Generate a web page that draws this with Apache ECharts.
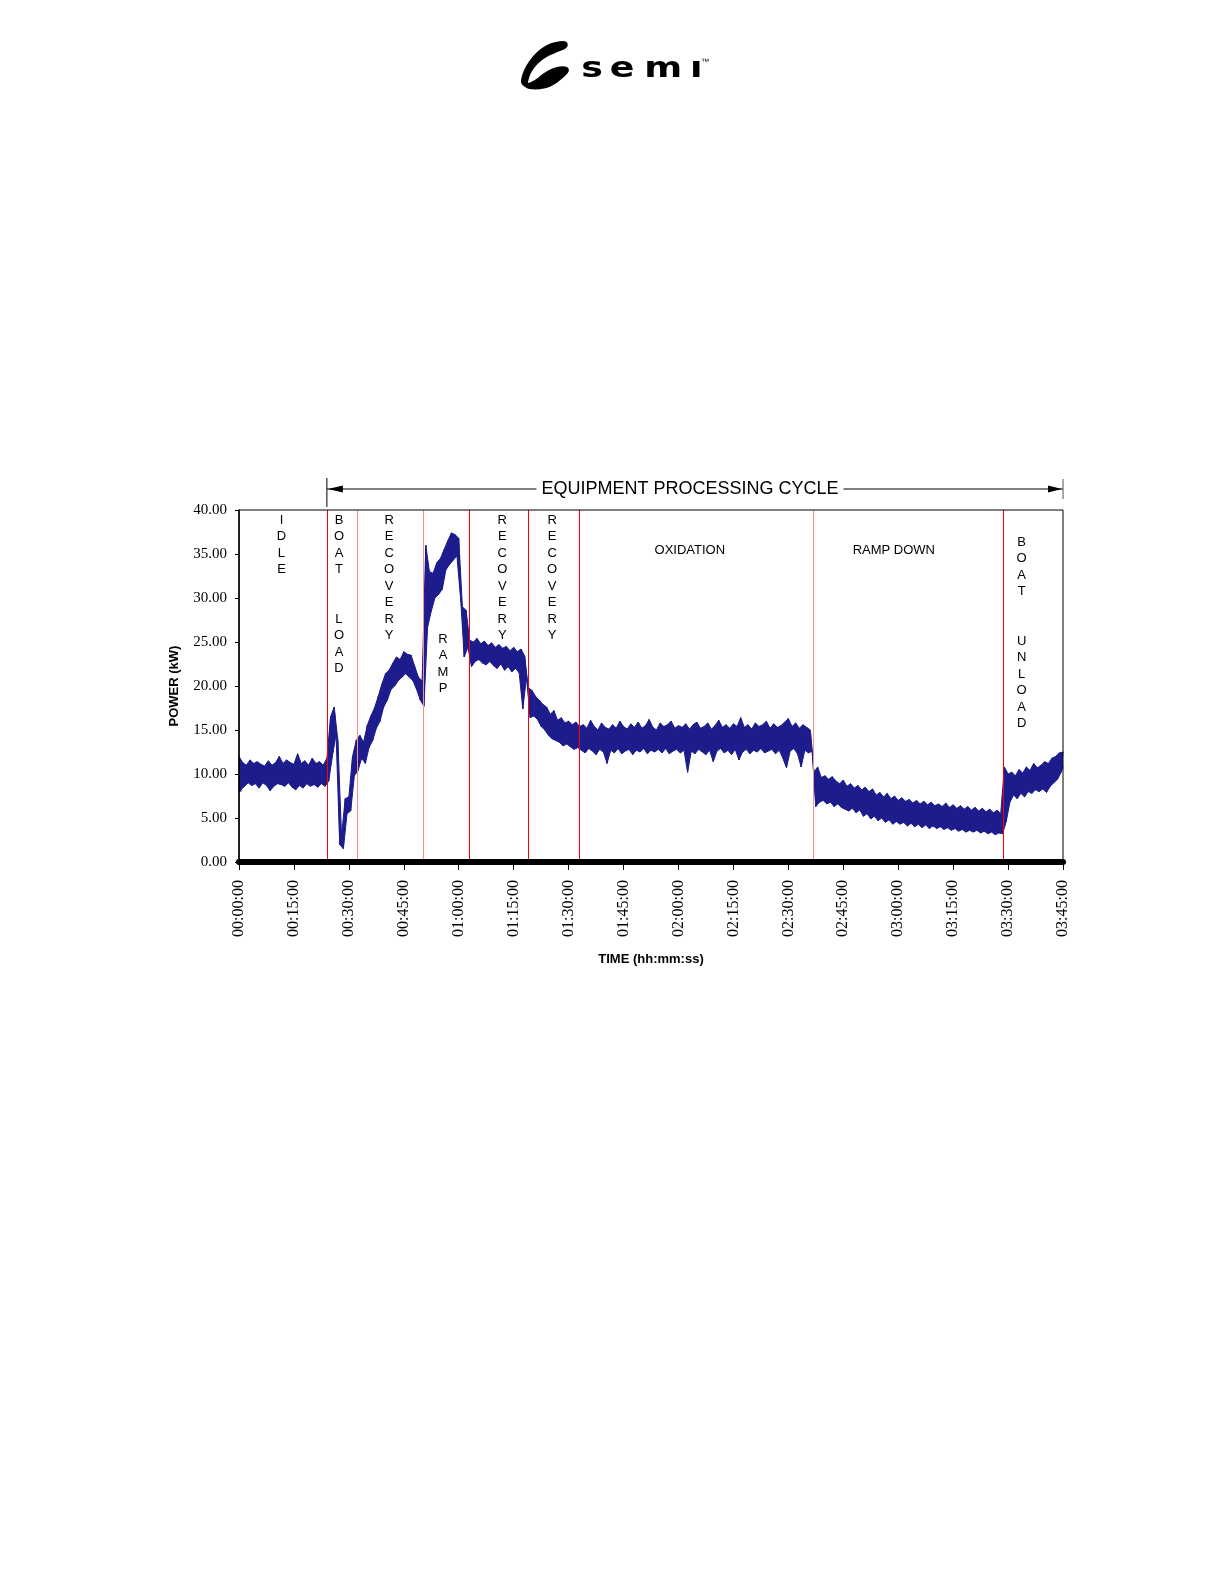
<!DOCTYPE html>
<html><head><meta charset="utf-8">
<script src="https://cdn.jsdelivr.net/npm/echarts@6/dist/echarts.min.js"></script>
<style>html,body{margin:0;padding:0;background:#fff;}#c{width:1225px;height:1585px;}</style>
</head><body><div id="c"></div>
<script>
// Power readings (kW), one pair per minute: upper and lower edge of the noisy trace
const powerHigh = [
  12.0, 11.3, 11.0, 11.6, 11.2, 11.4, 11.1, 10.9, 11.5, 11.0,
  11.3, 12.0, 11.2, 11.6, 11.3, 11.1, 12.3, 11.2, 11.5, 11.0,
  11.8, 11.2, 11.4, 11.0, 11.8, 16.5, 17.6, 13.8, 3.0, 7.2,
  7.4, 12.0, 13.8, 14.4, 13.6, 15.5, 16.6, 17.5, 18.8, 20.2,
  21.4, 21.8, 22.6, 23.3, 23.0, 23.9, 23.6, 23.5, 22.2, 21.0,
  20.6, 36.0, 33.0, 32.8, 34.0, 34.5, 35.5, 36.5, 37.4, 37.2,
  36.8, 29.0, 28.6, 25.2, 25.0, 25.4, 24.8, 25.1, 24.6, 24.9,
  24.4, 24.7, 24.3, 24.5, 24.0, 24.4, 23.9, 24.2, 23.4, 19.8,
  19.5, 18.8, 18.4, 17.9, 17.6, 16.8, 17.2, 16.1, 16.4, 15.8,
  16.0, 15.6, 15.9, 15.4, 15.6, 15.2, 16.1, 15.4, 15.0, 15.8,
  15.3, 15.1, 15.6, 15.2, 16.0, 15.4, 15.1, 15.7, 15.3, 15.9,
  15.2, 15.5, 16.2, 15.3, 15.0, 15.8, 15.4, 15.6, 16.0, 15.2,
  15.5, 15.3, 15.7, 15.1, 15.6, 15.9, 15.2, 15.4, 15.8, 15.1,
  15.5, 16.1, 15.3, 15.6, 15.2, 15.7, 15.4, 16.4, 15.3, 15.6,
  15.1, 15.8, 15.4, 15.6, 16.0, 15.2, 15.7, 15.3, 15.5, 15.9,
  16.3, 15.4, 15.8, 15.2, 15.6, 15.3, 15.0, 10.2, 10.8, 9.6,
  9.8, 9.4, 9.7, 9.2, 8.9, 9.3, 8.6, 8.9, 8.4, 8.7,
  8.2, 8.5, 8.0, 8.3, 7.6, 7.9, 7.4, 7.8, 7.2, 7.5,
  7.0, 7.3, 6.9, 7.1, 6.7, 7.0, 6.6, 6.9, 6.5, 6.8,
  6.4, 6.6, 6.3, 6.7, 6.2, 6.5, 6.1, 6.4, 6.0, 6.3,
  5.9, 6.2, 5.8, 6.1, 5.7, 6.0, 5.6, 5.9, 5.5, 10.8,
  10.0, 10.2, 9.8, 10.5, 10.1, 10.8, 10.4, 11.2, 10.7, 11.0,
  11.4, 11.2, 11.8, 12.0, 12.4, 12.5
];
const powerLow = [
  8.0, 8.6, 9.0, 8.7, 8.9, 8.4, 9.0, 8.7, 8.1, 8.6,
  8.9, 8.8, 8.6, 9.0, 8.5, 8.2, 8.7, 8.4, 8.9, 8.6,
  8.8, 8.5, 8.9, 8.6, 9.2, 12.0, 14.5, 2.0, 1.5, 5.5,
  5.8, 9.8, 10.4, 11.8, 11.2, 13.0, 13.8, 15.2, 16.0, 17.6,
  18.4, 19.6, 20.0, 20.6, 21.0, 21.4, 21.0, 20.6, 19.6, 18.4,
  17.7, 26.7, 28.5, 30.0, 30.4, 31.0, 33.2, 33.8, 34.3, 34.8,
  30.0, 23.3, 24.4, 22.2, 22.8, 23.0, 22.6, 22.4, 22.8, 22.3,
  22.0, 22.5, 21.8, 22.2, 21.6, 22.0, 21.5, 17.4, 21.0, 16.4,
  16.6, 16.2, 15.4, 15.0, 14.4, 14.0, 13.8, 13.6, 13.2, 13.4,
  13.1, 12.8, 13.0, 12.7, 12.4, 12.9, 12.6, 12.2, 12.8, 12.5,
  11.2, 12.7, 12.4, 12.9, 12.3, 12.6, 12.8, 12.2, 12.7, 12.5,
  12.9, 12.3, 12.7, 12.5, 12.8, 12.4, 12.9, 12.3, 12.6, 12.8,
  12.4, 12.7, 10.2, 12.6, 12.3, 12.8, 12.5, 12.2, 12.7, 11.4,
  12.6, 12.9, 12.4, 12.7, 12.2, 12.8, 11.6, 12.5, 12.8, 12.3,
  12.7, 12.5, 12.9, 12.4, 12.6, 12.8, 12.3, 12.7, 11.8, 10.7,
  12.6, 12.9, 12.3, 10.8, 12.7, 12.4, 12.6, 6.3, 6.8, 7.0,
  6.6, 6.8, 6.3, 6.6, 6.2, 6.0, 5.8, 6.1, 5.6, 5.9,
  5.2, 5.5, 4.9, 5.2, 4.7, 5.0, 4.5, 4.8, 4.3, 4.6,
  4.3, 4.5, 4.1, 4.4, 4.0, 4.3, 3.9, 4.2, 3.8, 4.1,
  3.8, 4.0, 3.7, 3.9, 3.6, 3.8, 3.5, 3.7, 3.4, 3.6,
  3.4, 3.6, 3.3, 3.5, 3.2, 3.4, 3.1, 3.3, 3.2, 4.6,
  6.8, 7.6, 7.2, 7.8, 7.4, 8.0, 7.8, 8.2, 8.0, 8.3,
  7.9, 8.6, 9.0, 9.4, 10.2, 10.8
];
// Phase boundaries (minutes)
const phaseBoundaries = [24.0, 32.2, 50.2, 63.0, 78.9, 93.0, 156.7, 208.6];
const boundaryColors = ['#ff0000', '#ff8a8a', '#ff8a8a', '#ff0000', '#ff0000', '#ff0000', '#ff8a8a', '#ff0000'];
const phaseNames = ['IDLE', 'BOAT  LOAD', 'RECOVERY', 'RAMP', 'RECOVERY', 'RECOVERY', 'OXIDATION', 'RAMP DOWN', 'BOAT  UNLOAD'];
const phaseLabelX = [11.6, 27.3, 41.0, 55.7, 71.9, 85.5, 123.1, 178.8, 213.7];
const phaseVertical = [true, true, true, true, true, true, false, false, true];
const phaseLabelTop = [512, 512, 512, 631, 512, 512, 550, 550, 534];
const cycleStart = 24.0, cycleEnd = 225;
const cycleTitle = 'EQUIPMENT PROCESSING CYCLE';

const NAVY = '#1c1c8c';
// upper edge of the trace at each whole minute, lower edge half a minute later
const highData = powerHigh.map((v, i) => [i, v]);
const lowData = [[0, powerLow[0]]];
for (let i = 0; i < powerLow.length - 1; i++) lowData.push([i + 0.5, powerLow[i]]);
lowData.push([powerLow.length - 1, powerLow[powerLow.length - 1]]);
// zig-zag trace between the two edges
const traceData = [];
for (let i = 0; i < powerHigh.length; i++) {
  traceData.push([i, powerHigh[i]]);
  if (i < powerHigh.length - 1) traceData.push([i + 0.5, powerLow[i]]);
}

function fmtTime(v) {
  const h = Math.floor(v / 60), m = Math.round(v % 60);
  const p = n => String(n).padStart(2, '0');
  return p(h) + ':' + p(m) + ':00';
}

const chart = echarts.init(document.getElementById('c'), null, {renderer: 'canvas'});
const bold = {fontFamily: 'Liberation Sans', fontWeight: 'bold', fontSize: 13, color: '#000'};
chart.setOption({
  animation: false,
  backgroundColor: '#fff',
  grid: {left: 239, right: 162, top: 510, bottom: 723, show: true, borderColor: '#000', borderWidth: 1, z: 6},
  xAxis: {
    type: 'value', min: 0, max: 225, interval: 15, offset: 3, z: 8,
    axisLine: {lineStyle: {color: '#000', width: 6}},
    axisTick: {length: 8, lineStyle: {color: '#000', width: 1}},
    axisLabel: {rotate: 90, margin: 15, fontFamily: 'Liberation Serif', fontSize: 16, color: '#000',
      formatter: fmtTime, showMinLabel: true, showMaxLabel: true},
    splitLine: {show: false},
    name: 'TIME (hh:mm:ss)', nameLocation: 'middle', nameGap: 88, nameTextStyle: bold
  },
  yAxis: {
    type: 'value', min: 0, max: 40, interval: 5, z: 8,
    axisLine: {show: true, lineStyle: {color: '#000', width: 1.5}},
    axisTick: {show: true, length: 4, lineStyle: {color: '#000'}},
    axisLabel: {formatter: v => v.toFixed(2), fontFamily: 'Liberation Serif', fontSize: 15, color: '#000', margin: 12},
    splitLine: {show: false},
    name: 'POWER (kW)', nameLocation: 'middle', nameGap: 58, nameRotate: 90, nameTextStyle: bold
  },
  series: [{
    name: 'upper', type: 'line', data: highData, showSymbol: false, symbol: 'none', z: 2,
    lineStyle: {color: NAVY, width: 1}, itemStyle: {color: NAVY},
    areaStyle: {color: NAVY, opacity: 1, origin: 'start'}
  }, {
    name: 'lower', type: 'line', data: lowData, showSymbol: false, symbol: 'none', z: 3,
    lineStyle: {color: NAVY, width: 1}, itemStyle: {color: NAVY},
    areaStyle: {color: '#fff', opacity: 1, origin: 'start'}
  }, {
    name: 'trace', type: 'line', data: traceData, showSymbol: false, symbol: 'none', z: 4,
    lineStyle: {color: NAVY, width: 1}, itemStyle: {color: NAVY},
    markLine: {
      silent: true, symbol: ['none', 'none'], label: {show: false}, animation: false,
      data: phaseBoundaries.map((b, i) => ({xAxis: b, lineStyle: {color: boundaryColors[i], width: 1, type: 'solid'}}))
    }
  }]
});

const px = v => chart.convertToPixel({gridIndex: 0}, [v, 0])[0];
const gfx = [];
// phase labels
phaseNames.forEach((name, i) => {
  const text = phaseVertical[i] ? name.split('').map(c => c === ' ' ? '' : c).join('\n') : name;
  gfx.push({type: 'text', silent: true, z: 10, style: {
    text: text, x: px(phaseLabelX[i]), y: phaseLabelTop[i], fill: '#000',
    font: '13px "Liberation Sans"', textAlign: 'center',
    textVerticalAlign: phaseVertical[i] ? 'top' : 'middle', lineHeight: 16.5
  }});
});
// cycle arrow
const ax1 = px(cycleStart), ax2 = px(cycleEnd), ay = 489;
gfx.push({type: 'line', silent: true, shape: {x1: ax1, y1: ay, x2: ax2, y2: ay}, style: {stroke: '#000', lineWidth: 1}});
gfx.push({type: 'line', silent: true, shape: {x1: ax1, y1: 478, x2: ax1, y2: 507}, style: {stroke: '#000', lineWidth: 1}});
gfx.push({type: 'line', silent: true, shape: {x1: ax2, y1: 479, x2: ax2, y2: 499}, style: {stroke: '#555', lineWidth: 1}});
gfx.push({type: 'polygon', silent: true, shape: {points: [[ax1 + 1, ay], [ax1 + 16, ay - 3.5], [ax1 + 16, ay + 3.5]]}, style: {fill: '#000'}});
gfx.push({type: 'polygon', silent: true, shape: {points: [[ax2 - 1, ay], [ax2 - 15, ay - 3.5], [ax2 - 15, ay + 3.5]]}, style: {fill: '#000'}});
gfx.push({type: 'text', silent: true, z: 10, style: {
  text: cycleTitle, x: (ax1 + ax2) / 2 - 5, y: ay, fill: '#000', font: '18px "Liberation Sans"',
  textAlign: 'center', textVerticalAlign: 'middle', backgroundColor: '#fff', padding: [0, 5]
}});
// semi logo
const swooshSvg = '<svg xmlns="http://www.w3.org/2000/svg" width="52" height="52" viewBox="0 0 52 52">' +
  '<path fill="#000" d="M2 40 C4 28 14 12 28 5 C34 2 40 1 44 1 C48 1 50 4 48 7 C46 10 40 11 34 14 ' +
  'C26 17 16 24 11 35 C10 38 9 41 9 43 C16 42 22 34 30 30 C36 27 44 25 48 27 C51 29 50 32 48 34 ' +
  'C42 40 34 47 25 48.5 C18 50 10 50 6 47 C3 45 1.5 43 2 40 Z"/></svg>';
gfx.push({type: 'image', silent: true, style: {
  image: 'data:image/svg+xml;charset=utf-8,' + encodeURIComponent(swooshSvg), x: 519, y: 40, width: 52, height: 52
}});
[['s', 592], ['e', 622.2], ['m', 663.3], ['\u0131', 696.2]].forEach(([ch, x]) => {
  gfx.push({type: 'text', silent: true, x: x, y: 70, scaleX: 1.3, style: {text: ch, x: 0, y: 0, fill: '#000',
    font: 'bold 28px "DejaVu Sans"', textAlign: 'center', textVerticalAlign: 'middle'}});
});
gfx.push({type: 'text', silent: true, style: {text: '\u2122', x: 705, y: 62, fill: '#000',
  font: '8px "Liberation Sans"', textAlign: 'center', textVerticalAlign: 'middle'}});
chart.setOption({graphic: gfx});
</script>
</body></html>
